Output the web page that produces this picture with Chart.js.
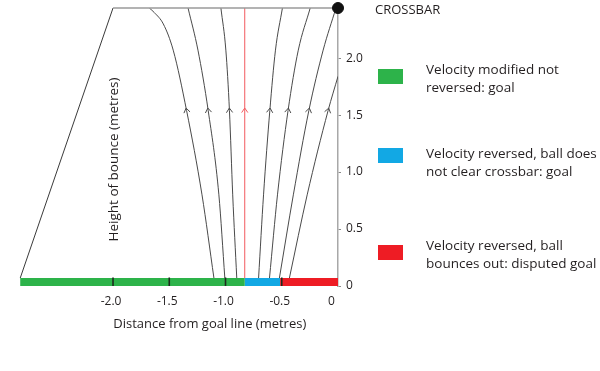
<!DOCTYPE html>
<html>
<head>
<meta charset="utf-8">
<script src="https://cdn.jsdelivr.net/npm/chart.js@4.4.0/dist/chart.umd.min.js"></script>
<style>
html, body { margin: 0; padding: 0; background: #fff; }
#wrap { width: 600px; height: 371px; }
</style>
</head>
<body>
<div id="wrap"><canvas id="graficoRebote" width="600" height="371"></canvas></div>
<script>
// ejes
var xTicks = [-2.0, -1.5, -1.0, -0.5, 0];
var yTicks = [0, 0.5, 1.0, 1.5, 2.0];
var larguero = 2.44;
var alturaFlecha = 1.54;

// trayectorias (x en metros para cada altura)
var alturas = [0.07, 0.80, 1.54, 2.07, 2.44];
var tray1Alturas = [0.07, 0.80, 1.54, 2.07, 2.30, 2.40, 2.44];
var tray1 = [-1.103, -1.209, -1.346, -1.465, -1.553, -1.633, -1.677];
var tray2 = [-1.006, -1.059, -1.154, -1.245, -1.333];
var tray3 = [-0.900, -0.936, -0.965, -0.997, -1.041];
var trayRoja = [-0.829, -0.829, -0.829, -0.829, -0.829];
var tray5 = [-0.706, -0.662, -0.606, -0.556, -0.494];
var tray6 = [-0.609, -0.538, -0.444, -0.353, -0.247];
var tray7 = [-0.521, -0.397, -0.259, -0.132, -0.018];
var tray8Alturas = [0.07, 0.80, 1.54, 1.84];
var tray8 = [-0.432, -0.274, -0.088, 0];

// porteria
var paredX = [-2.825, -2.0];
var paredY = [0.07, 2.44];
var travesanoX = [-2.0, 0];

// barra de colores
var tramos = [-2.825, -0.829, -0.515, 0];
var tramosColores = ['#2db34a', '#12a8e4', '#ee1c24'];
var marcasBarra = [-2.0, -1.5, -1.0, -0.5];

// leyenda
var leyendaTextos = [
    ['Velocity modified not', 'reversed: goal'],
    ['Velocity reversed, ball does', 'not clear crossbar: goal'],
    ['Velocity reversed, ball', 'bounces out: disputed goal']
];
var tituloX = 'Distance from goal line (metres)';
var tituloY = 'Height of bounce (metres)';
var textoLarguero = 'CROSSBAR';

var fuente = "'Open Sans', sans-serif";
var colorTexto = '#231f20';

function puntos(xs, ys) {
    return xs.map(function (x, i) {
        return { x: x, y: ys[i] };
    });
}

function trayectoria(xs, ys, color) {
    return {
        data: puntos(xs, ys),
        showLine: true,
        borderColor: color || '#4a4a4a',
        borderWidth: 1,
        pointRadius: 0,
        cubicInterpolationMode: 'monotone',
        flecha: true,
        order: 3
    };
}

var datasets = [];

// barra inferior (encima de todo)
datasets.push({
    data: puntos(marcasBarra, marcasBarra.map(function () { return 0.035; })),
    pointStyle: 'line',
    rotation: 90,
    pointRadius: 4.5,
    borderColor: '#1d2a1d',
    borderWidth: 1.6,
    order: 0
});
for (var i = 0; i < tramosColores.length; i++) {
    datasets.push({
        data: puntos([tramos[i], tramos[i + 1]], [0.035, 0.035]),
        showLine: true,
        borderColor: tramosColores[i],
        borderWidth: 8,
        borderCapStyle: 'butt',
        pointRadius: 0,
        order: 1
    });
}

// larguero
datasets.push({
    data: [{ x: 0, y: larguero }],
    pointRadius: 5.5,
    backgroundColor: '#111',
    borderColor: '#111',
    clip: false,
    order: 0
});
datasets.push({
    data: puntos(travesanoX, [larguero, larguero]),
    showLine: true,
    borderColor: '#9a9a9a',
    borderWidth: 1.6,
    pointRadius: 0,
    clip: false,
    order: 2
});
datasets.push({
    data: puntos(paredX, paredY),
    showLine: true,
    borderColor: '#3a3a3a',
    borderWidth: 1,
    pointRadius: 0,
    order: 2
});

datasets.push(trayectoria(tray1, tray1Alturas));
datasets.push(trayectoria(tray2, alturas));
datasets.push(trayectoria(tray3, alturas));
var roja = trayectoria(trayRoja, alturas, '#f25a5f');
roja.cubicInterpolationMode = 'default';
roja.tension = 0;
datasets.push(roja);
datasets.push(trayectoria(tray5, alturas));
datasets.push(trayectoria(tray6, alturas));
datasets.push(trayectoria(tray7, alturas));
datasets.push(trayectoria(tray8, tray8Alturas));

// flechas sobre las trayectorias
var pluginFlechas = {
    id: 'flechas',
    afterDatasetsDraw: function (chart) {
        var ctx = chart.ctx;
        chart.data.datasets.forEach(function (ds, i) {
            if (!ds.flecha) return;
            var meta = chart.getDatasetMeta(i);
            var idx = ds.data.findIndex(function (p) { return p.y === alturaFlecha; });
            if (idx < 1) return;
            var p = meta.data[idx], a = meta.data[idx - 1], b = meta.data[idx + 1];
            var ang = Math.atan2(b.y - a.y, b.x - a.x);
            var tx = p.x + Math.cos(ang) * 2.5, ty = p.y + Math.sin(ang) * 2.5;
            var largo = 5.5, abre = 0.6;
            ctx.save();
            ctx.strokeStyle = ds.borderColor;
            ctx.lineWidth = 1;
            ctx.beginPath();
            ctx.moveTo(tx - largo * Math.cos(ang - abre), ty - largo * Math.sin(ang - abre));
            ctx.lineTo(tx, ty);
            ctx.lineTo(tx - largo * Math.cos(ang + abre), ty - largo * Math.sin(ang + abre));
            ctx.stroke();
            ctx.restore();
        });
    }
};

// leyenda, titulos y "CROSSBAR"
var pluginTextos = {
    id: 'textos',
    afterDraw: function (chart) {
        var ctx = chart.ctx;
        var xs = chart.scales.x, ys = chart.scales.y;
        ctx.save();
        ctx.fillStyle = colorTexto;
        ctx.textBaseline = 'middle';
        ctx.font = '13px ' + fuente;
        ctx.textAlign = 'left';
        ctx.fillText(textoLarguero, 375, 10);

        var filas = [70, 154, 246];
        var cajas = [69, 148, 245];
        ctx.font = '13.5px ' + fuente;
        leyendaTextos.forEach(function (lineas, k) {
            ctx.fillStyle = tramosColores[k];
            ctx.fillRect(378, cajas[k], 25, 15);
            ctx.fillStyle = colorTexto;
            lineas.forEach(function (t, j) {
                ctx.fillText(t, 426, filas[k] + j * 18);
            });
        });

        // titulo del eje x
        ctx.font = '13px ' + fuente;
        ctx.textAlign = 'center';
        ctx.fillText(tituloX, xs.getPixelForValue(-1.14), 324);

        // titulo del eje y, dentro del area
        ctx.font = '13.5px ' + fuente;
        ctx.translate(xs.getPixelForValue(-2.0) + 1, ys.getPixelForValue(1.11));
        ctx.rotate(-Math.PI / 2);
        ctx.fillText(tituloY, 0, 0);
        ctx.restore();
    }
};

var ctx = document.getElementById('graficoRebote').getContext('2d');
var grafico = new Chart(ctx, {
    type: 'scatter',
    data: { datasets: datasets },
    options: {
        responsive: false,
        animation: false,
        devicePixelRatio: 1,
        layout: { padding: { left: 5, right: 232, top: 8, bottom: 39 } },
        plugins: {
            legend: { display: false },
            tooltip: { enabled: false }
        },
        scales: {
            x: {
                type: 'linear',
                min: -2.947,
                max: 0,
                afterBuildTicks: function (scale) {
                    scale.ticks = xTicks.map(function (v) { return { value: v }; });
                },
                afterFit: function (scale) {
                    scale.height = 46;
                    scale.paddingLeft = 0;
                    scale.paddingRight = 0;
                },
                grid: { display: false, drawTicks: false },
                border: { display: false },
                ticks: {
                    padding: 8,
                    labelOffset: -2,
                    color: colorTexto,
                    font: { family: fuente, size: 12 },
                    callback: function (v) { return v === 0 ? '0   ' : v.toFixed(1); }
                }
            },
            y: {
                type: 'linear',
                position: 'right',
                min: 0,
                max: larguero,
                afterBuildTicks: function (scale) {
                    scale.ticks = yTicks.map(function (v) { return { value: v }; });
                },
                afterFit: function (scale) {
                    scale.width = 30;
                    scale.paddingTop = 0;
                    scale.paddingBottom = 0;
                },
                grid: { drawOnChartArea: false, tickLength: 3, color: '#8a8a8a' },
                border: { display: true, color: '#a8a8a8', width: 1.5 },
                ticks: {
                    padding: 5,
                    color: colorTexto,
                    font: { family: fuente, size: 12 },
                    callback: function (v) { return v === 0 ? '0' : v.toFixed(1); }
                }
            }
        }
    },
    plugins: [pluginFlechas, pluginTextos]
});
</script>
</body>
</html>
